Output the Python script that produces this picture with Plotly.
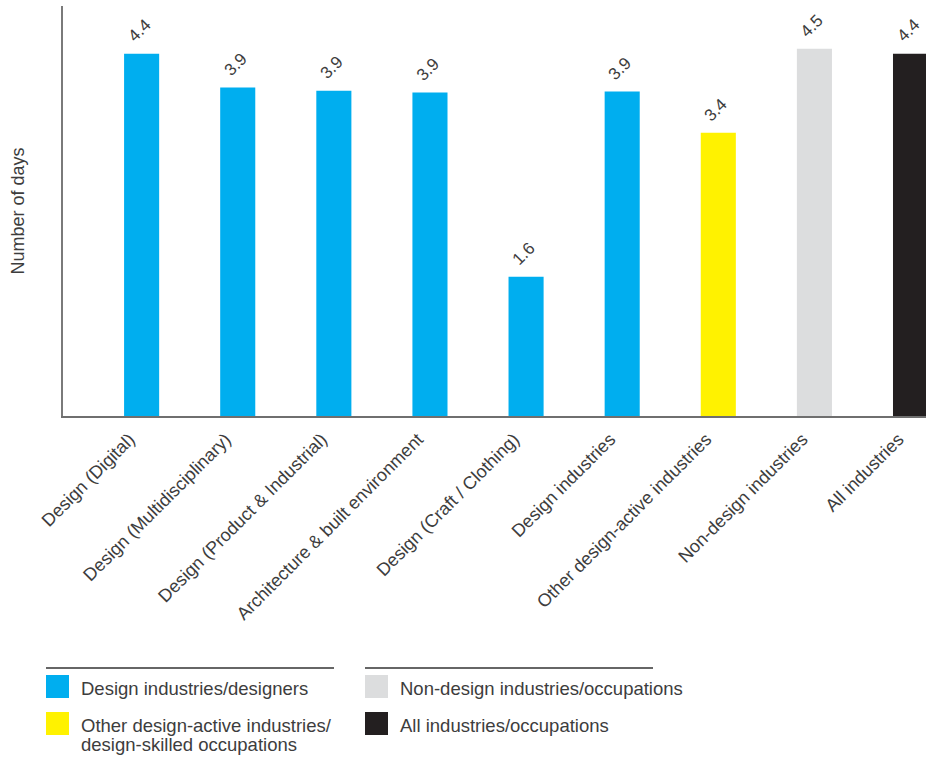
import plotly.graph_objects as go

categories = [
    "Design (Digital)",
    "Design (Multidisciplinary)",
    "Design (Product & Industrial)",
    "Architecture & built environment",
    "Design (Craft / Clothing)",
    "Design industries",
    "Other design-active industries",
    "Non-design industries",
    "All industries",
]
values = [4.40, 3.99, 3.95, 3.93, 1.69, 3.94, 3.44, 4.46, 4.40]
value_labels = ["4.4", "3.9", "3.9", "3.9", "1.6", "3.9", "3.4", "4.5", "4.4"]
groups = ["design", "design", "design", "design", "design", "design", "other", "non", "all"]

group_colors = {
    "design": "#00AEEF",
    "other": "#FFF200",
    "non": "#DCDDDE",
    "all": "#231F20",
}
legend_left = [("design", "Design industries/designers"),
               ("other", "Other design-active industries/\ndesign-skilled occupations")]
legend_right = [("non", "Non-design industries/occupations"),
                ("all", "All industries/occupations")]

W, H = 926, 757
L, R, T, B = 63, 0, 6, 341
PW, PH = W - L - R, H - T - B
FONT = "Liberation Sans, Arial, Helvetica, sans-serif"
TXT = "#3d3d3d"


def xp(px):
    return (px - L) / PW


def yp(py):
    return (T + PH - py) / PH


fig = go.Figure()
fig.add_trace(go.Bar(
    x=list(range(len(categories))),
    y=values,
    marker=dict(color=[group_colors[g] for g in groups], line=dict(width=0)),
    width=0.365,
    showlegend=False,
    hoverinfo="skip",
))

annotations = []
for i, (v, lab) in enumerate(zip(values, value_labels)):
    annotations.append(dict(
        x=i, y=v, xref="x", yref="y", text=lab, showarrow=False,
        textangle=-45, xanchor="center", yanchor="middle",
        xshift=-2, yshift=23,
        font=dict(family=FONT, size=17, color=TXT),
    ))

shapes = []
# legend columns
for col_x, items in ((46, legend_left), (365, legend_right)):
    shapes.append(dict(type="line", xref="paper", yref="paper",
                       x0=xp(col_x), x1=xp(col_x + 288), y0=yp(668), y1=yp(668),
                       line=dict(color="#333333", width=1.5)))
    for j, (g, label) in enumerate(items):
        top = 675 + 37 * j
        shapes.append(dict(type="rect", xref="paper", yref="paper",
                           x0=xp(col_x), x1=xp(col_x + 23), y0=yp(top), y1=yp(top + 23),
                           fillcolor=group_colors[g], line=dict(width=0)))
        for k, line in enumerate(label.split("\n")):
            annotations.append(dict(
                x=xp(col_x + 33), y=yp(top + 13 + 19 * k), xref="paper", yref="paper",
                text=line, showarrow=False, xanchor="left", yanchor="middle",
                font=dict(family=FONT, size=18.5, color=TXT),
            ))

fig.update_layout(
    width=W, height=H,
    margin=dict(l=L, r=R, t=T, b=B, pad=0),
    paper_bgcolor="white", plot_bgcolor="white",
    bargap=0.635,
    annotations=annotations,
    shapes=shapes,
    xaxis=dict(
        range=[-0.818, 8.161],
        tickmode="array",
        tickvals=list(range(len(categories))),
        ticktext=categories,
        tickangle=-45,
        tickfont=dict(family=FONT, size=18, color=TXT),
        ticklabelshift=-12,
        ticklabelstandoff=4,
        showline=True, linecolor="#6f6f6f", linewidth=1.5,
        showgrid=False, zeroline=False, ticks="",
        fixedrange=True,
    ),
    yaxis=dict(
        range=[0, 4.98],
        showline=True, linecolor="#7a7a7a", linewidth=1.5,
        showgrid=False, zeroline=False, showticklabels=False, ticks="",
        title=dict(text="Number of days", standoff=32,
                   font=dict(family=FONT, size=18, color=TXT)),
        fixedrange=True,
    ),
)

fig.write_html("out.html", config={"displayModeBar": False},
               post_script="document.body.style.margin='0px';")
